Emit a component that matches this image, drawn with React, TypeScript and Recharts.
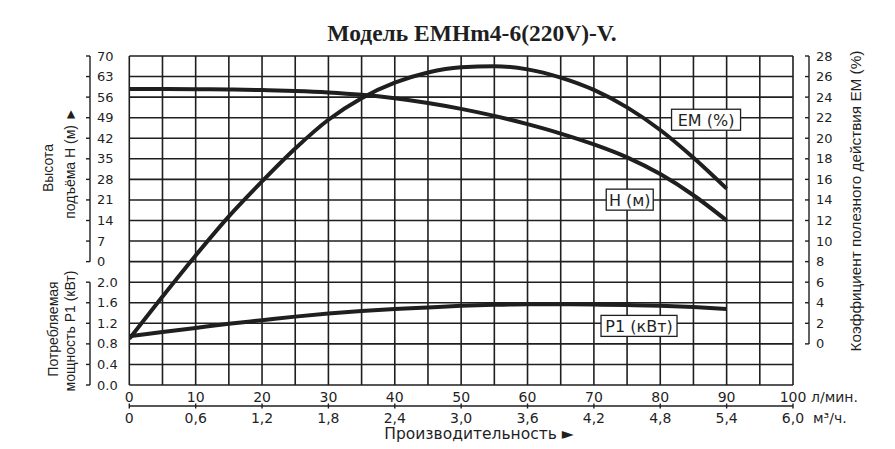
import React from 'react'
import { LineChart, Line, XAxis, YAxis, CartesianGrid, ReferenceDot } from 'recharts'

// l/min
const flow = [0, 5, 10, 15, 20, 25, 30, 35, 40, 45, 50, 55, 60, 65, 70, 75, 80, 85, 90]
// m
const head = [58.8, 58.8, 58.7, 58.6, 58.4, 58.1, 57.6, 56.8, 55.6, 54.0, 52.0, 49.6, 46.8, 43.6, 39.9, 35.5, 29.8, 22.6, 14.0]
// %
const efficiency = [0.5, 4.6, 8.6, 12.4, 15.8, 19.0, 21.8, 23.9, 25.4, 26.4, 26.9, 27.0, 26.7, 25.9, 24.7, 23.0, 20.8, 18.1, 15.1]
// kW
const power = [0.95, 1.03, 1.11, 1.19, 1.26, 1.33, 1.39, 1.44, 1.48, 1.51, 1.54, 1.56, 1.57, 1.57, 1.565, 1.555, 1.54, 1.515, 1.48]

const flowTicks = [0, 10, 20, 30, 40, 50, 60, 70, 80, 90, 100]
const cubicLabels = ['0', '0,6', '1,2', '1,8', '2,4', '3,0', '3,6', '4,2', '4,8', '5,4', '6,0']
const headTicks = [0, 7, 14, 21, 28, 35, 42, 49, 56, 63, 70]
const powerTicks = [0, 0.4, 0.8, 1.2, 1.6, 2.0]
const efficiencyTicks = [0, 2, 4, 6, 8, 10, 12, 14, 16, 18, 20, 22, 24, 26, 28]
// grid: every 5 l/min, every 0.4 kW step of the lower scale (16 rows)
const gridColumns = [0, 5, 10, 15, 20, 25, 30, 35, 40, 45, 50, 55, 60, 65, 70, 75, 80, 85, 90, 95, 100]
const gridRows = [0, 0.4, 0.8, 1.2, 1.6, 2.0, 2.4, 2.8, 3.2, 3.6, 4.0, 4.4, 4.8, 5.2, 5.6, 6.0, 6.4]

const curveLabels = [
  { text: 'EM (%)', flow: 86.9, value: 21.8, axis: 'em', width: 69 },
  { text: 'H (м)', flow: 75.4, value: 21.1, axis: 'head', width: 47 },
  { text: 'P1 (кВт)', flow: 76.8, value: 1.15, axis: 'power', width: 76 },
]

const data = flow.map((f, i) => ({
  flow: f,
  head: head[i],
  efficiency: efficiency[i],
  power: power[i],
}))

const W = 895
const H = 449
const TOP = 56
const LEFT_W = 129.3
const RIGHT_W = 102
const FLOW_AXIS_H = 21
const CUBIC_AXIS_H = 40
const BOTTOM = 3
const PLOT_BOTTOM = H - BOTTOM - FLOW_AXIS_H - CUBIC_AXIS_H
const ROW = (PLOT_BOTTOM - TOP) / 16
const COL = (W - LEFT_W - RIGHT_W) / (flowTicks.length - 1)
const LEFT_AXIS_X = 90
const RIGHT_AXIS_X = 809
const INK = '#1f1f1f'
const SANS = 'DejaVu Sans, sans-serif'

const sideTick = (axisX: number, bottomValue: number, format: (v: number) => string) =>
  (props: any) => {
    const { y, payload } = props
    const v = payload.value
    return (
      <g>
        <line x1={axisX - 4} x2={axisX} y1={y} y2={y} stroke={INK} strokeWidth={1.4} />
        {v !== bottomValue && (
          <line x1={axisX} x2={axisX} y1={y} y2={y + ROW} stroke={INK} strokeWidth={1.4} />
        )}
        <text x={axisX + 7} y={y} dominantBaseline="central" fontSize={13} fontFamily={SANS} fill={INK}>
          {format(v)}
        </text>
      </g>
    )
  }

const FlowTick = (props: any) => {
  const { x, payload } = props
  const v = payload.value
  const y = PLOT_BOTTOM + 12
  return (
    <g>
      <text x={x} y={y} textAnchor="middle" dominantBaseline="central" fontSize={14} fontFamily={SANS} fill={INK}>
        {v}
      </text>
      {v === 100 && (
        <text x={x + 18} y={y} dominantBaseline="central" fontSize={14} fontFamily={SANS} fill={INK}>
          л/мин.
        </text>
      )}
    </g>
  )
}

const CubicTick = (props: any) => {
  const { x, payload, index } = props
  const lineY = PLOT_BOTTOM + FLOW_AXIS_H
  const y = lineY + 12
  const last = payload.value === 100
  return (
    <g>
      {!last && <line x1={x} x2={x + COL} y1={lineY} y2={lineY} stroke={INK} strokeWidth={1.4} />}
      <line x1={x} x2={x} y1={lineY - 2.5} y2={lineY + 2.5} stroke={INK} strokeWidth={1.4} />
      <text x={x} y={y} textAnchor="middle" dominantBaseline="central" fontSize={14} fontFamily={SANS} fill={INK}>
        {cubicLabels[index]}
      </text>
      {last && (
        <text x={x + 20} y={y} dominantBaseline="central" fontSize={14} fontFamily={SANS} fill={INK}>
          м³/ч.
        </text>
      )}
    </g>
  )
}

const BoxLabel = ({ cx, cy, text, width }: any) => (
  <g>
    <rect x={cx - width / 2} y={cy - 10.5} width={width} height={21} fill="#fff" stroke={INK} strokeWidth={1.3} />
    <text x={cx} y={cy + 1} textAnchor="middle" dominantBaseline="central" fontSize={16} fontFamily={SANS} fill={INK}>
      {text}
    </text>
  </g>
)

const textStyle: React.CSSProperties = {
  position: 'absolute',
  whiteSpace: 'nowrap',
  color: INK,
  fontFamily: 'Liberation Sans, Arial, sans-serif',
  fontSize: 14,
  lineHeight: 1,
}

const rotated = (x: number, y: number): React.CSSProperties => ({
  ...textStyle,
  left: x,
  top: y,
  transform: 'translate(-50%, -50%) rotate(-90deg)',
})

export default function App() {
  return (
    <div style={{ position: 'absolute', left: 0, top: 0, width: W, height: H, background: '#fff' }}>
      <LineChart
        width={W}
        height={H}
        data={data}
        margin={{ top: TOP, right: 0, bottom: BOTTOM, left: 0 }}
        style={{ position: 'absolute', left: 0, top: 0 }}
      >
        <CartesianGrid
          xAxisId="flow"
          yAxisId="power"
          verticalValues={gridColumns}
          horizontalValues={gridRows}
          stroke={INK}
          strokeWidth={1.6}
        />

        <XAxis
          xAxisId="flow"
          dataKey="flow"
          type="number"
          domain={[0, 100]}
          ticks={flowTicks}
          interval={0}
          height={FLOW_AXIS_H}
          axisLine={false}
          tickLine={false}
          tick={FlowTick}
          allowDataOverflow
        />
        <XAxis
          xAxisId="cubic"
          dataKey="flow"
          type="number"
          domain={[0, 100]}
          ticks={flowTicks}
          interval={0}
          height={CUBIC_AXIS_H}
          axisLine={false}
          tickLine={false}
          tick={CubicTick}
          allowDataOverflow
        />

        <YAxis
          yAxisId="head"
          orientation="left"
          type="number"
          domain={[-42, 70]}
          ticks={headTicks}
          interval={0}
          width={70}
          axisLine={false}
          tickLine={false}
          tick={sideTick(LEFT_AXIS_X, 0, (v) => String(v))}
          allowDataOverflow
        />
        <YAxis
          yAxisId="power"
          orientation="left"
          type="number"
          domain={[0, 6.4]}
          ticks={powerTicks}
          interval={0}
          width={LEFT_W - 70}
          axisLine={false}
          tickLine={false}
          tick={sideTick(LEFT_AXIS_X, 0, (v) => v.toFixed(1))}
          allowDataOverflow
        />
        <YAxis
          yAxisId="em"
          orientation="right"
          type="number"
          domain={[-4, 28]}
          ticks={efficiencyTicks}
          interval={0}
          width={RIGHT_W}
          axisLine={false}
          tickLine={false}
          tick={sideTick(RIGHT_AXIS_X, 0, (v) => String(v))}
          allowDataOverflow
        />

        <Line xAxisId="flow" yAxisId="em" dataKey="efficiency" type="monotone" stroke={INK} strokeWidth={4} dot={false} isAnimationActive={false} />
        <Line xAxisId="flow" yAxisId="head" dataKey="head" type="monotone" stroke={INK} strokeWidth={4} dot={false} isAnimationActive={false} />
        <Line xAxisId="flow" yAxisId="power" dataKey="power" type="monotone" stroke={INK} strokeWidth={4} dot={false} isAnimationActive={false} />

        {curveLabels.map((l) => (
          <ReferenceDot
            key={l.text}
            xAxisId="flow"
            yAxisId={l.axis}
            x={l.flow}
            y={l.value}
            shape={(p: any) => <BoxLabel cx={p.cx} cy={p.cy} text={l.text} width={l.width} />}
          />
        ))}
      </LineChart>

      <div
        style={{
          ...textStyle,
          left: 472,
          top: 34,
          transform: 'translate(-50%, -50%)',
          fontFamily: 'Liberation Serif, serif',
          fontWeight: 'bold',
          fontSize: 23.5,
        }}
      >
        Модель EMHm4-6(220V)-V.
      </div>
      <div style={rotated(48, 168)}>Высота</div>
      <div style={rotated(70, 163)}>подъёма H (м) ►</div>
      <div style={rotated(53, 329)}>Потребляемая</div>
      <div style={rotated(70, 331)}>мощность P1 (кВт)</div>
      <div style={{ ...rotated(856, 201), fontSize: 15.3 }}>Коэффициент полезного действия EM (%)</div>
      <div style={{ ...textStyle, left: 479, top: 434.5, transform: 'translate(-50%, -50%)', fontFamily: SANS, fontSize: 15.5 }}>
        Производительность ►
      </div>
    </div>
  )
}
